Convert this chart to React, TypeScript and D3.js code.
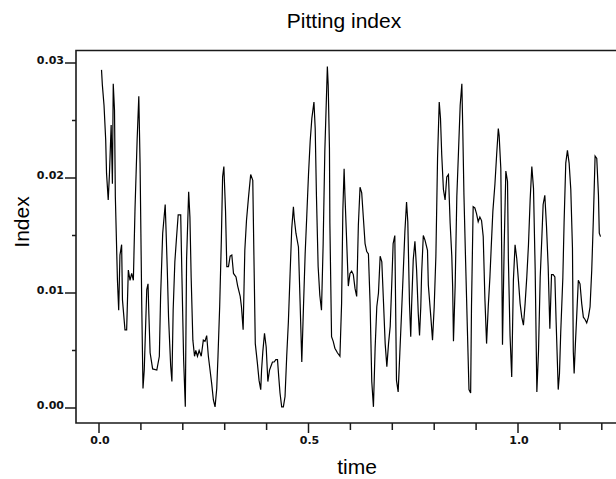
import React from 'react';
import * as d3 from 'd3';

// Pitting index series: [time, index]
const seriesPartA: [number, number][] = [
  [0.006,0.0294],[0.008,0.0281],[0.012,0.0263],[0.016,0.0233],[0.018,0.0204],[0.022,0.0181],[0.025,0.0204],[0.029,0.0246],[0.032,0.0195],[0.034,0.0282],[0.037,0.0259],[0.039,0.0184],[0.044,0.0111],[0.047,0.0085],[0.050,0.0133],[0.054,0.0142],[0.056,0.0094],[0.062,0.0068],[0.066,0.0068],[0.070,0.0120],[0.074,0.0111],[0.078,0.0117],[0.082,0.0111],[0.086,0.0174],[0.091,0.0233],[0.095,0.0271],[0.098,0.0213],[0.102,0.0090],[0.105,0.0017],[0.108,0.0033],[0.111,0.0068],[0.114,0.0103],[0.117,0.0108],[0.119,0.0082],[0.122,0.0048],[0.128,0.0034],[0.138,0.0033],[0.144,0.0045],[0.147,0.0097],[0.152,0.0152],[0.158,0.0177],[0.160,0.0155],[0.163,0.0120],[0.166,0.0079],[0.171,0.0037],[0.174,0.0023],[0.177,0.0085],[0.181,0.0127],[0.185,0.0148],[0.189,0.0168],[0.195,0.0168],[0.198,0.0113],[0.202,0.0042],[0.206,0.0001],[0.209,0.0129],[0.214,0.0188],[0.217,0.0166],[0.220,0.0113],[0.224,0.0059],[0.228,0.0045],[0.231,0.0050],[0.235,0.0045],[0.239,0.0050],[0.244,0.0045],[0.249,0.0059],[0.253,0.0058],[0.257,0.0063],[0.261,0.0045],[0.265,0.0033],[0.269,0.0021],[0.273,0.0007],[0.277,0.0001],[0.281,0.0017],[0.284,0.0045],[0.288,0.0088],[0.292,0.0146],[0.295,0.0201],[0.298,0.0210],[0.302,0.0171],[0.305,0.0123],[0.309,0.0123],[0.313,0.0132],[0.317,0.0133],[0.321,0.0117],[0.327,0.0114],[0.331,0.0106],[0.337,0.0097],[0.340,0.0088],[0.344,0.0068],[0.348,0.0137],[0.352,0.0163],[0.357,0.0184],[0.362,0.0203],[0.367,0.0198],[0.370,0.0126],[0.373,0.0056],[0.378,0.0039],[0.382,0.0024]
];
const seriesPartB: [number, number][] = [
  [0.386,0.0016],[0.388,0.0033],[0.391,0.0049],[0.395,0.0065],[0.399,0.0053],[0.403,0.0023],[0.407,0.0033],[0.411,0.0037],[0.414,0.0040],[0.418,0.0040],[0.422,0.0042],[0.426,0.0042],[0.429,0.0027],[0.432,0.0013],[0.436,0.0001],[0.440,0.0001],[0.444,0.0010],[0.448,0.0045],[0.452,0.0075],[0.456,0.0116],[0.460,0.0156],[0.464,0.0175],[0.466,0.0165],[0.470,0.0152],[0.476,0.0140],[0.480,0.0091],[0.484,0.0040],[0.488,0.0088],[0.492,0.0134],[0.496,0.0168],[0.500,0.0203],[0.504,0.0232],[0.508,0.0252],[0.513,0.0266],[0.516,0.0243],[0.519,0.0184],[0.523,0.0123],[0.527,0.0098],[0.531,0.0085],[0.535,0.0143],[0.539,0.0224],[0.545,0.0297],[0.547,0.0281],[0.550,0.0226],[0.551,0.0161],[0.555,0.0062],[0.559,0.0058],[0.563,0.0052],[0.569,0.0048],[0.575,0.0045],[0.579,0.0091],[0.582,0.0172],[0.585,0.0208],[0.587,0.0185],[0.591,0.0146],[0.595,0.0106],[0.599,0.0117],[0.603,0.0119],[0.607,0.0116],[0.611,0.0104],[0.615,0.0097],[0.619,0.0159],[0.623,0.0192],[0.627,0.0187],[0.631,0.0165],[0.635,0.0143],[0.639,0.0136],[0.643,0.0134],[0.647,0.0091],[0.651,0.0023],[0.655,0.0001],[0.659,0.0052],[0.663,0.0088],[0.667,0.0100],[0.671,0.0132],[0.675,0.0127],[0.679,0.0092],[0.683,0.0056],[0.687,0.0036],[0.691,0.0056],[0.695,0.0071],[0.699,0.0111],[0.702,0.0143],[0.706,0.0150],[0.710,0.0024],[0.714,0.0014],[0.718,0.0048],[0.722,0.0082],[0.726,0.0117],[0.730,0.0153],[0.734,0.0179],[0.737,0.0162],[0.741,0.0091],[0.744,0.0062],[0.746,0.0088],[0.750,0.0129],[0.754,0.0145],[0.758,0.0120],[0.762,0.0082],[0.765,0.0063]
];
const seriesPartC: [number, number][] = [
  [0.768,0.0088],[0.770,0.0117],[0.774,0.0150],[0.778,0.0146],[0.784,0.0137],[0.786,0.0107],[0.792,0.0079],[0.796,0.0059],[0.800,0.0088],[0.804,0.0132],[0.808,0.0217],[0.812,0.0266],[0.815,0.0252],[0.818,0.0220],[0.822,0.0190],[0.826,0.0181],[0.830,0.0201],[0.834,0.0203],[0.838,0.0161],[0.842,0.0132],[0.844,0.0106],[0.846,0.0058],[0.850,0.0106],[0.854,0.0184],[0.858,0.0223],[0.862,0.0263],[0.866,0.0282],[0.868,0.0246],[0.871,0.0185],[0.875,0.0127],[0.879,0.0071],[0.883,0.0016],[0.887,0.0013],[0.889,0.0088],[0.893,0.0175],[0.897,0.0174],[0.901,0.0169],[0.905,0.0162],[0.909,0.0166],[0.913,0.0163],[0.917,0.0149],[0.921,0.0095],[0.925,0.0056],[0.929,0.0088],[0.933,0.0114],[0.936,0.0139],[0.940,0.0171],[0.945,0.0195],[0.949,0.0220],[0.953,0.0243],[0.955,0.0237],[0.959,0.0208],[0.961,0.0139],[0.963,0.0055],[0.967,0.0140],[0.971,0.0206],[0.975,0.0197],[0.977,0.0130],[0.981,0.0063],[0.985,0.0027],[0.989,0.0111],[0.993,0.0142],[0.997,0.0130],[1.001,0.0111],[1.005,0.0091],[1.009,0.0079],[1.013,0.0072],[1.017,0.0091],[1.021,0.0114],[1.025,0.0142],[1.029,0.0181],[1.033,0.0210],[1.037,0.0191],[1.041,0.0120],[1.045,0.0014],[1.049,0.0050],[1.053,0.0114],[1.057,0.0149],[1.060,0.0177],[1.064,0.0185],[1.068,0.0158],[1.072,0.0123],[1.076,0.0069],[1.080,0.0116],[1.084,0.0116],[1.088,0.0114],[1.091,0.0075],[1.094,0.0040],[1.096,0.0016],[1.099,0.0030],[1.102,0.0066],[1.107,0.0113],[1.110,0.0161],[1.114,0.0213],[1.118,0.0224],[1.122,0.0213],[1.126,0.0190],[1.130,0.0139],[1.132,0.0049],[1.134,0.0030],[1.137,0.0056],[1.140,0.0079],[1.144,0.0111],[1.148,0.0108],[1.152,0.0091],[1.156,0.0079],[1.160,0.0077],[1.164,0.0074],[1.168,0.0079],[1.172,0.0088],[1.176,0.0120],[1.180,0.0166],[1.184,0.0219],[1.188,0.0217],[1.192,0.0185],[1.194,0.0152],[1.197,0.0149]
];

const yMajorTicks = [0, 0.01, 0.02, 0.03];
const yMinorTicks = [0.005, 0.015, 0.025];
const xMajorTicks = [0, 0.5, 1.0];
const xMinorTicks = [0.1, 0.2, 0.3, 0.4, 0.6, 0.7, 0.8, 0.9, 1.1, 1.2];

const TITLE = 'Pitting index';
const X_LABEL = 'time';
const Y_LABEL = 'Index';

export default function App() {
  const W = 616, H = 479;
  const data = [...seriesPartA, ...seriesPartB, ...seriesPartC];
  const x = d3.scaleLinear().domain([0, 1]).range([99, 518]);
  const y = d3.scaleLinear().domain([0, 0.03]).range([408, 63]);
  const line = d3.line<[number, number]>().x(d => x(d[0])).y(d => y(d[1]));
  const left = 76, top = 50.5, bottom = 423;
  const axisColor = '#1a1a1a';
  const tickFont = { fontFamily: 'DejaVu Sans', fontWeight: 700, fontSize: 11 } as const;
  const titleFont = { fontFamily: 'Liberation Sans', fontSize: 21 } as const;
  const fy = d3.format('.2f');
  const fx = d3.format('.1f');

  return (
    <svg width={W} height={H} style={{ position: 'absolute', left: 0, top: 0, background: '#fff' }}>
      <rect x={0} y={0} width={W} height={H} fill="#fff" />
      <path d={line(data) || ''} fill="none" stroke="#000" strokeWidth={1.2} />
      <path d={`M${W + 20},${top}H${left}V${bottom}H${W + 20}`} fill="none" stroke={axisColor} strokeWidth={1.6} />
      {yMajorTicks.map(v => (
        <g key={'ym' + v}>
          <line x1={left - 11} x2={left} y1={y(v)} y2={y(v)} stroke={axisColor} strokeWidth={1.5} />
          <text x={left - 12} y={y(v) + 0.5} textAnchor="end" fill="#111" style={tickFont}>{fy(v)}</text>
        </g>
      ))}
      {yMinorTicks.map(v => (
        <line key={'yn' + v} x1={left - 4} x2={left} y1={y(v)} y2={y(v)} stroke={axisColor} strokeWidth={1.5} />
      ))}
      {xMajorTicks.map(v => (
        <g key={'xm' + v}>
          <line x1={x(v)} x2={x(v)} y1={bottom} y2={bottom + 10} stroke={axisColor} strokeWidth={1.5} />
          <text x={x(v) + 1} y={444} textAnchor="middle" fill="#111" style={tickFont}>{fx(v)}</text>
        </g>
      ))}
      {xMinorTicks.map(v => (
        <line key={'xn' + v} x1={x(v)} x2={x(v)} y1={bottom} y2={bottom + 7} stroke={axisColor} strokeWidth={1.5} />
      ))}
      <text x={344} y={28} textAnchor="middle" fill="#000" style={titleFont}>{TITLE}</text>
      <text x={357} y={474} textAnchor="middle" fill="#000" style={titleFont}>{X_LABEL}</text>
      <text transform="translate(29,222) rotate(-90)" textAnchor="middle" fill="#000" style={titleFont}>{Y_LABEL}</text>
    </svg>
  );
}
